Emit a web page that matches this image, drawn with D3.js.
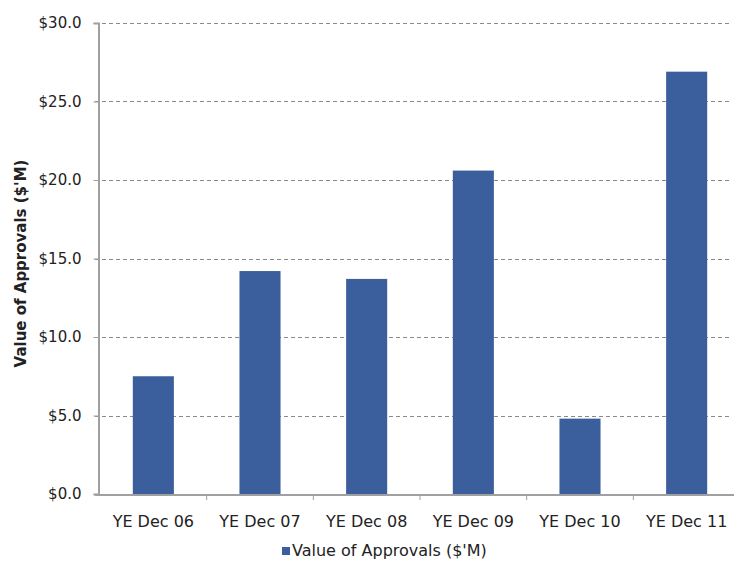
<!DOCTYPE html>
<html>
<head>
<meta charset="utf-8">
<script src="https://cdn.jsdelivr.net/npm/d3@7"></script>
<style>
  body { margin: 0; background: #fff; }
  svg text { font-family: Tahoma, "DejaVu Sans", Verdana, sans-serif; fill: #222; }
</style>
</head>
<body>
<div id="chart"></div>
<script>
// Chart data
const categories = ['YE Dec 06', 'YE Dec 07', 'YE Dec 08', 'YE Dec 09', 'YE Dec 10', 'YE Dec 11'];
const approvals = [7.5, 14.2, 13.7, 20.6, 4.8, 26.9];
const yTicks = [0, 5, 10, 15, 20, 25, 30];
const seriesName = "Value of Approvals ($'M)";

const width = 734, height = 570;
const margin = { top: 23, right: -6, bottom: 76, left: 100 };

const svg = d3.select('#chart').append('svg')
  .attr('width', width)
  .attr('height', height);

const x = d3.scaleBand()
  .domain(categories)
  .range([margin.left, width - margin.right])
  .paddingInner(0.615)
  .paddingOuter(0.3075);

const y = d3.scaleLinear()
  .domain([0, 30])
  .range([height - margin.bottom, margin.top]);

// dashed gridlines
svg.selectAll('.grid')
  .data(yTicks.filter(d => d > 0))
  .enter().append('line')
    .attr('x1', margin.left - 5)
    .attr('x2', 730)
    .attr('y1', d => Math.round(y(d)) + 0.5)
    .attr('y2', d => Math.round(y(d)) + 0.5)
    .attr('stroke', '#8a8a8a')
    .attr('stroke-dasharray', '4,3');

// bars
svg.selectAll('.bar')
  .data(approvals)
  .enter().append('rect')
    .attr('class', 'bar')
    .attr('x', (d, i) => x(categories[i]))
    .attr('width', x.bandwidth())
    .attr('y', d => y(d))
    .attr('height', d => y(0) - y(d))
    .attr('fill', '#3a5f9c');

// y axis
const yAxis = svg.append('g')
  .attr('transform', `translate(${margin.left - 1.5},0)`)
  .call(d3.axisLeft(y).tickValues(yTicks).tickFormat(d => '$' + d.toFixed(1)).tickSize(5).tickPadding(12));
yAxis.select('.domain').attr('stroke', '#a0a0a0').attr('stroke-width', 2);
yAxis.selectAll('.tick line').attr('stroke', '#a0a0a0');
yAxis.selectAll('text').style('font-size', '15px').attr('fill', '#222');

// x axis with ticks between categories
const xAxis = svg.append('g')
  .attr('transform', `translate(0,${y(0) + 1})`);
xAxis.append('line')
  .attr('x1', margin.left - 5).attr('x2', width)
  .attr('stroke', '#a0a0a0').attr('stroke-width', 2);
const step = x.step();
xAxis.selectAll('.sep')
  .data(categories.slice(1))
  .enter().append('line')
    .attr('x1', d => x(d) - (step - x.bandwidth()) / 2)
    .attr('x2', d => x(d) - (step - x.bandwidth()) / 2)
    .attr('y1', 0).attr('y2', 5)
    .attr('stroke', '#a0a0a0');
xAxis.selectAll('.lbl')
  .data(categories)
  .enter().append('text')
    .attr('x', d => x(d) + x.bandwidth() / 2)
    .attr('y', 32)
    .attr('text-anchor', 'middle')
    .style('font-size', '16px')
    .text(d => d);

// y axis title
svg.append('text')
  .attr('transform', 'translate(26,' + (y(15) + 5) + ') rotate(-90)')
  .attr('text-anchor', 'middle')
  .style('font-size', '15px')
  .style('font-weight', 'bold')
  .text(seriesName);

// legend
const legend = svg.append('g').attr('transform', 'translate(282,547)');
legend.append('rect')
  .attr('x', 0).attr('y', 0)
  .attr('width', 8).attr('height', 8)
  .attr('fill', '#3a5f9c');
legend.append('text')
  .attr('x', 10).attr('y', 9)
  .style('font-size', '16px')
  .text(seriesName);
</script>
</body>
</html>
